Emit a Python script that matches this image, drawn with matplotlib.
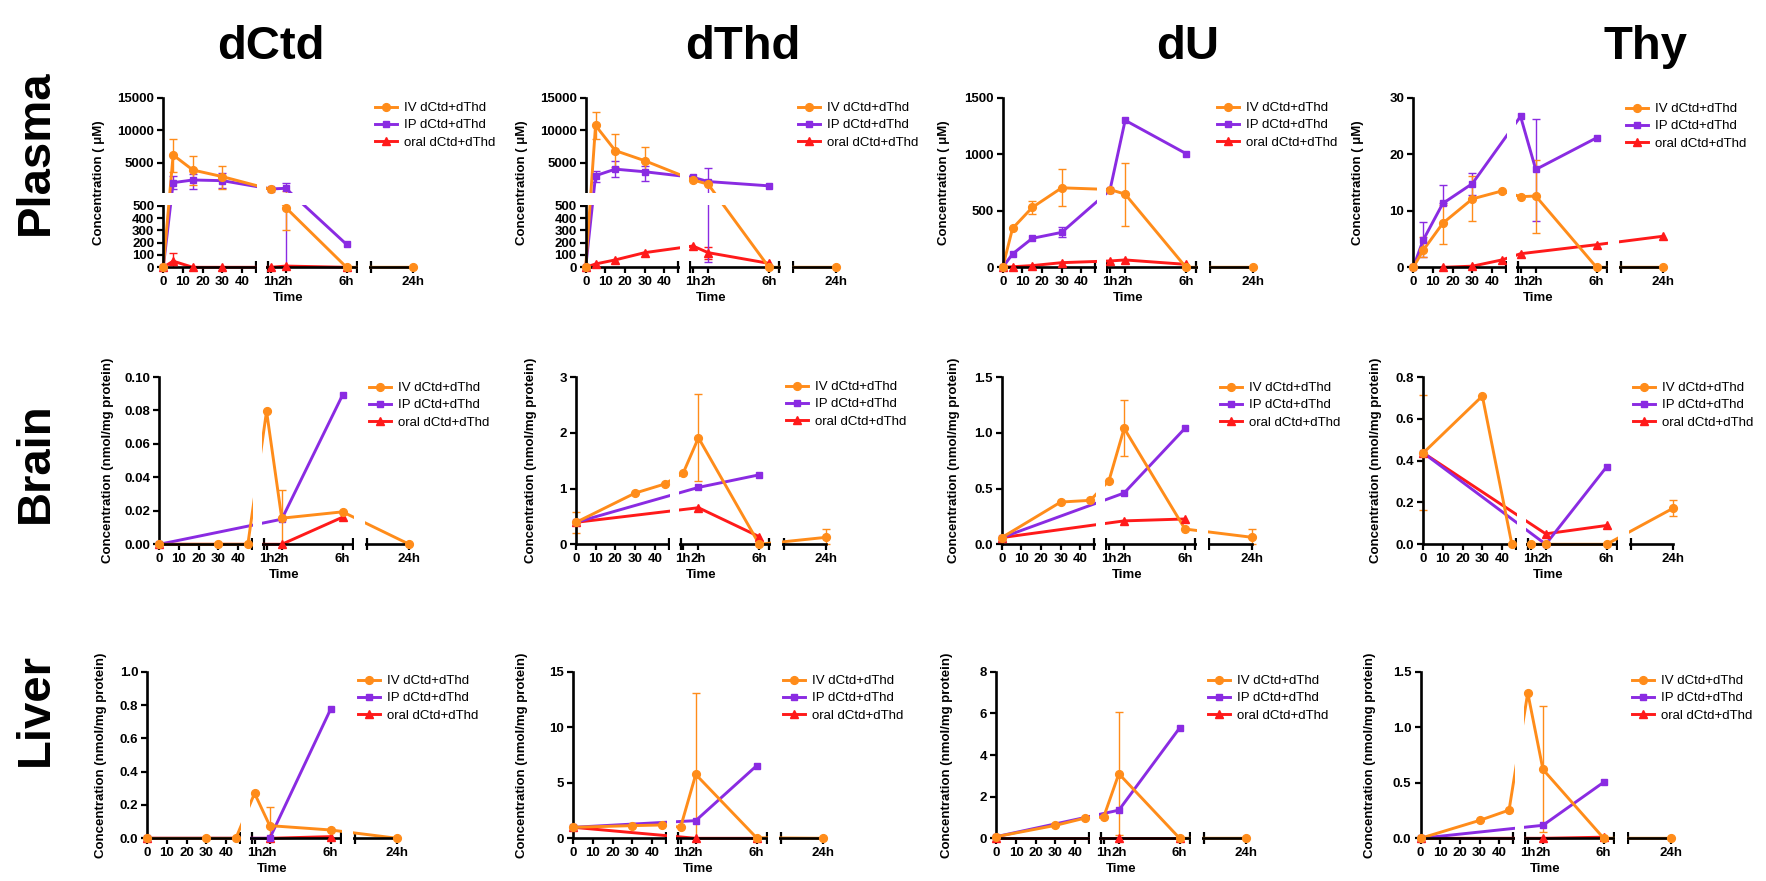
import numpy as np
import matplotlib
matplotlib.use("Agg")
import matplotlib.pyplot as plt
from matplotlib.lines import Line2D
from matplotlib.patches import Rectangle

nan = np.nan

# sampling times in minutes
times = [0, 5, 15, 30, 45, 60, 120, 360, 1440]
xtick_vals = [0, 10, 20, 30, 40, 60, 120, 360, 1440]
xtick_text = ['0', '10', '20', '30', '40', '1h', '2h', '6h', '24h']
series_names = ['IV dCtd+dThd', 'IP dCtd+dThd', 'oral dCtd+dThd']
organs = ['Plasma', 'Brain', 'Liver']
compounds = ['dCtd', 'dThd', 'dU', 'Thy']

# ---- Plasma dCtd (uM)
pl_dctd_iv = [0, 6180, 3870, 2850, nan, 900, 485, 0, 0]
pl_dctd_iv_lo = [nan, 3620, 1560, 900, nan, nan, 300, nan, nan]
pl_dctd_iv_hi = [nan, 8640, 6030, 4490, nan, nan, 670, nan, nan]
pl_dctd_ip = [0, 1920, 2330, 2230, nan, 950, 1050, 186, nan]
pl_dctd_ip_lo = [nan, 900, 900, 1050, nan, nan, 0, nan, nan]
pl_dctd_ip_hi = [nan, 2950, 3300, 3460, nan, nan, 1800, nan, nan]
pl_dctd_or = [0, 50, 0, 0, nan, 0, 10, 0, nan]
pl_dctd_or_lo = [nan, 0, nan, nan, nan, nan, nan, nan, nan]
pl_dctd_or_hi = [nan, 120, nan, nan, nan, nan, nan, nan, nan]

# ---- Plasma dThd (uM)
pl_dthd_iv = [0, 10730, 6860, 5300, nan, 2340, 1680, 0, 0]
pl_dthd_iv_lo = [nan, 8620, 4350, 3700, nan, nan, nan, nan, nan]
pl_dthd_iv_hi = [nan, 12740, 9370, 7360, nan, nan, nan, nan, nan]
pl_dthd_ip = [0, 2990, 4000, 3600, nan, 2740, 2090, 1430, nan]
pl_dthd_ip_lo = [nan, 2000, 2840, 2200, nan, nan, 46, nan, nan]
pl_dthd_ip_hi = [nan, 3700, 5250, 4500, nan, nan, 4250, nan, nan]
pl_dthd_or = [0, 27, 60, 119, nan, 173, 119, 32, nan]
pl_dthd_or_lo = [nan, nan, nan, nan, nan, nan, 65, nan, nan]
pl_dthd_or_hi = [nan, nan, nan, nan, nan, nan, 168, nan, nan]

# ---- Plasma dU (uM)
pl_du_iv = [0, 344, 529, 703, nan, 688, 647, 0, 0]
pl_du_iv_lo = [nan, nan, 475, 541, nan, nan, 368, nan, nan]
pl_du_iv_hi = [nan, nan, 590, 868, nan, nan, 924, nan, nan]
pl_du_ip = [0, 118, 256, 309, nan, 682, 1300, 1006, nan]
pl_du_ip_lo = [nan, nan, nan, 265, nan, nan, nan, nan, nan]
pl_du_ip_hi = [nan, nan, nan, 358, nan, nan, nan, nan, nan]
pl_du_or = [0, 5, 15, 41, nan, 56, 65, 26, nan]

# ---- Plasma Thy (uM)
pl_thy_iv = [0, 3.0, 7.8, 12.1, 13.5, 12.5, 12.6, 0, 0]
pl_thy_iv_lo = [nan, 1.9, 4.2, 8.2, nan, nan, 6.1, nan, nan]
pl_thy_iv_hi = [nan, 5.4, 11.1, 16.1, nan, nan, 19.0, nan, nan]
pl_thy_ip = [0, 4.8, 11.3, 14.8, nan, 26.7, 17.3, 22.9, nan]
pl_thy_ip_lo = [nan, 1.9, nan, 12.8, nan, nan, 8.2, nan, nan]
pl_thy_ip_hi = [nan, 8.1, 14.5, 16.6, nan, nan, 26.3, nan, nan]
pl_thy_or = [nan, nan, 0, 0.2, 1.3, 2.4, nan, 4.0, 5.5]

# ---- Brain dCtd (nmol/mg protein)
br_dctd_iv = [0, nan, nan, 0, 0, 0.0796, 0.0156, 0.0194, 0]
br_dctd_iv_lo = [nan, nan, nan, nan, nan, nan, 0, nan, nan]
br_dctd_iv_hi = [nan, nan, nan, nan, nan, nan, 0.0326, nan, nan]
br_dctd_ip = [0, nan, nan, nan, nan, nan, 0.015, 0.0892, nan]
br_dctd_or = [0, nan, nan, nan, nan, nan, 0, 0.0162, nan]

# ---- Brain dThd
br_dthd_iv = [0.394, nan, nan, 0.918, 1.08, 1.28, 1.91, 0, 0.125]
br_dthd_iv_lo = [0.21, nan, nan, nan, nan, nan, 1.14, nan, 0]
br_dthd_iv_hi = [0.58, nan, nan, nan, nan, nan, 2.69, nan, 0.27]
br_dthd_ip = [0.394, nan, nan, nan, nan, nan, 1.02, 1.246, nan]
br_dthd_or = [0.394, nan, nan, nan, nan, nan, 0.656, 0.137, nan]

# ---- Brain dU
br_du_iv = [0.06, nan, nan, 0.379, 0.394, 0.57, 1.04, 0.137, 0.063]
br_du_iv_lo = [nan, nan, nan, nan, nan, nan, 0.79, nan, 0]
br_du_iv_hi = [nan, nan, nan, nan, nan, nan, 1.29, nan, 0.137]
br_du_ip = [0.06, nan, nan, nan, nan, nan, 0.46, 1.04, nan]
br_du_or = [0.06, nan, nan, nan, nan, nan, 0.21, 0.227, nan]

# ---- Brain Thy
br_thy_iv = [0.437, nan, nan, 0.709, 0, 0, 0, 0, 0.173]
br_thy_iv_lo = [0.165, nan, nan, nan, nan, nan, nan, nan, 0.133]
br_thy_iv_hi = [0.712, nan, nan, nan, nan, nan, nan, nan, 0.213]
br_thy_ip = [0.437, nan, nan, nan, nan, nan, 0, 0.37, nan]
br_thy_or = [0.437, nan, nan, nan, nan, nan, 0.05, 0.09, nan]

# ---- Liver dCtd
lv_dctd_iv = [0, nan, nan, 0, 0, 0.27, 0.076, 0.05, 0]
lv_dctd_iv_lo = [nan, nan, nan, nan, nan, nan, 0, nan, nan]
lv_dctd_iv_hi = [nan, nan, nan, nan, nan, nan, 0.19, nan, nan]
lv_dctd_ip = [0, nan, nan, nan, nan, nan, 0, 0.774, nan]
lv_dctd_or = [0, nan, nan, nan, nan, nan, 0, 0.01, nan]

# ---- Liver dThd
lv_dthd_iv = [0.99, nan, nan, 1.14, 1.2, 0.99, 5.75, 0.05, 0]
lv_dthd_iv_lo = [nan, nan, nan, nan, nan, nan, 0, nan, nan]
lv_dthd_iv_hi = [nan, nan, nan, nan, nan, nan, 13.1, nan, nan]
lv_dthd_ip = [0.99, nan, nan, nan, nan, nan, 1.59, 6.53, nan]
lv_dthd_or = [0.99, nan, nan, nan, nan, nan, 0, 0, nan]

# ---- Liver dU
lv_du_iv = [0.08, nan, nan, 0.62, 0.97, 1.02, 3.1, 0, 0]
lv_du_iv_lo = [nan, nan, nan, nan, nan, nan, 0.14, nan, nan]
lv_du_iv_hi = [nan, nan, nan, nan, nan, nan, 6.05, nan, nan]
lv_du_ip = [0.08, nan, nan, nan, nan, nan, 1.35, 5.3, nan]
lv_du_or = [0, nan, nan, nan, nan, nan, 0, 0, nan]

# ---- Liver Thy
lv_thy_iv = [0, nan, nan, 0.161, 0.254, 1.31, 0.62, 0, 0]
lv_thy_iv_lo = [nan, nan, nan, nan, nan, nan, 0.057, nan, nan]
lv_thy_iv_hi = [nan, nan, nan, nan, nan, nan, 1.19, nan, nan]
lv_thy_ip = [0, nan, nan, nan, nan, nan, 0.117, 0.505, nan]
lv_thy_or = [0, nan, nan, nan, nan, nan, 0, 0.01, nan]

# y axis ticks per panel
yt_broken = [0, 100, 200, 300, 400, 500, 5000, 10000, 15000]
yticks = {
    (0, 0): yt_broken, (0, 1): yt_broken,
    (0, 2): [0, 500, 1000, 1500], (0, 3): [0, 10, 20, 30],
    (1, 0): [0, 0.02, 0.04, 0.06, 0.08, 0.10], (1, 1): [0, 1, 2, 3],
    (1, 2): [0, 0.5, 1.0, 1.5], (1, 3): [0, 0.2, 0.4, 0.6, 0.8],
    (2, 0): [0, 0.2, 0.4, 0.6, 0.8, 1.0], (2, 1): [0, 5, 10, 15],
    (2, 2): [0, 2, 4, 6, 8], (2, 3): [0, 0.5, 1.0, 1.5],
}
ydigits = {(1, 0): 2, (1, 2): 1, (1, 3): 1, (2, 0): 1, (2, 3): 1}

no_err = [nan] * 9
data = {
    (0, 0): [(pl_dctd_iv, pl_dctd_iv_lo, pl_dctd_iv_hi), (pl_dctd_ip, pl_dctd_ip_lo, pl_dctd_ip_hi), (pl_dctd_or, pl_dctd_or_lo, pl_dctd_or_hi)],
    (0, 1): [(pl_dthd_iv, pl_dthd_iv_lo, pl_dthd_iv_hi), (pl_dthd_ip, pl_dthd_ip_lo, pl_dthd_ip_hi), (pl_dthd_or, pl_dthd_or_lo, pl_dthd_or_hi)],
    (0, 2): [(pl_du_iv, pl_du_iv_lo, pl_du_iv_hi), (pl_du_ip, pl_du_ip_lo, pl_du_ip_hi), (pl_du_or, no_err, no_err)],
    (0, 3): [(pl_thy_iv, pl_thy_iv_lo, pl_thy_iv_hi), (pl_thy_ip, pl_thy_ip_lo, pl_thy_ip_hi), (pl_thy_or, no_err, no_err)],
    (1, 0): [(br_dctd_iv, br_dctd_iv_lo, br_dctd_iv_hi), (br_dctd_ip, no_err, no_err), (br_dctd_or, no_err, no_err)],
    (1, 1): [(br_dthd_iv, br_dthd_iv_lo, br_dthd_iv_hi), (br_dthd_ip, no_err, no_err), (br_dthd_or, no_err, no_err)],
    (1, 2): [(br_du_iv, br_du_iv_lo, br_du_iv_hi), (br_du_ip, no_err, no_err), (br_du_or, no_err, no_err)],
    (1, 3): [(br_thy_iv, br_thy_iv_lo, br_thy_iv_hi), (br_thy_ip, no_err, no_err), (br_thy_or, no_err, no_err)],
    (2, 0): [(lv_dctd_iv, lv_dctd_iv_lo, lv_dctd_iv_hi), (lv_dctd_ip, no_err, no_err), (lv_dctd_or, no_err, no_err)],
    (2, 1): [(lv_dthd_iv, lv_dthd_iv_lo, lv_dthd_iv_hi), (lv_dthd_ip, no_err, no_err), (lv_dthd_or, no_err, no_err)],
    (2, 2): [(lv_du_iv, lv_du_iv_lo, lv_du_iv_hi), (lv_du_ip, no_err, no_err), (lv_du_or, no_err, no_err)],
    (2, 3): [(lv_thy_iv, lv_thy_iv_lo, lv_thy_iv_hi), (lv_thy_ip, no_err, no_err), (lv_thy_or, no_err, no_err)],
}

# ---- layout (pixels of the 1766x881 figure)
FW, FH = 1766, 881
PW = 250
row_y = [(97.7, 267.3), (377.0, 544.3), (671.7, 838.3)]
col_x0 = [[163.3, 585.7, 1002.7, 1413.3],
          [159.3, 576.0, 1001.7, 1423.3],
          [147.3, 573.3, 996.4, 1420.5]]
ylab_off = [[65, 65, 60, 56], [52, 46, 49, 48], [47, 52, 50, 52]]
leg_xy = [[(375, 110), (798, 110), (1217, 110), (1626, 111)],
          [(369, 390), (786, 389), (1220, 390), (1633, 390)],
          [(358, 683), (783, 683), (1208, 683), (1632, 683)]]
title_x = [271, 743, 1188, 1645]
row_label_y = [152, 463, 709]

colors = ['#FF8C1A', '#8A2BE2', '#FF1A1A']
markers = ['o', 's', '^']
msizes = [5.6, 5.0, 5.8]
LW = 2.1

# broken time axis: minutes -> fraction of axis width
xb_t = [0, 47, 49, 60, 360, 400, 720, 1440]
xb_f = [0, 0.37, 0.418, 0.429, 0.733, 0.7735, 0.83, 1.0]
# broken concentration axis for plasma dCtd / dThd
yb_v = [0, 500, 501, 15000]
yb_f = [0, 0.363, 0.4447, 1.0]

plt.rcParams['font.family'] = ['Liberation Sans', 'DejaVu Sans']
plt.rcParams['font.weight'] = 'bold'

fig = plt.figure(figsize=(FW / 100, FH / 100), dpi=100)

for r in range(3):
    ytop, ybot = row_y[r]
    for c in range(4):
        x0 = col_x0[r][c]
        ph = ybot - ytop
        ax = fig.add_axes([x0 / FW, 1 - ybot / FH, PW / FW, ph / FH])
        ax.set_xscale('function', functions=(lambda t: np.interp(t, xb_t, xb_f),
                                             lambda f: np.interp(f, xb_f, xb_t)))
        ax.set_xlim(0, 1440)
        yt = yticks[(r, c)]
        broken = (r == 0 and c < 2)
        if broken:
            ax.set_yscale('function', functions=(lambda v: np.interp(v, yb_v, yb_f),
                                                 lambda f: np.interp(f, yb_f, yb_v)))
        ax.set_ylim(0, yt[-1])

        for k in [2, 1, 0]:
            vals, lo, hi = data[(r, c)][k]
            t = np.array(times, float)
            y = np.array(vals, float)
            lo = np.array(lo, float)
            hi = np.array(hi, float)
            m = ~np.isnan(y)
            ax.plot(t[m], y[m], color=colors[k], lw=LW, zorder=2 + 0.1 * (2 - k), clip_on=False)
            ax.plot(t[m], y[m], ls='none', marker=markers[k], ms=msizes[k], color=colors[k],
                    zorder=4 + 0.1 * (2 - k), clip_on=False)
            e = m & (~np.isnan(lo) | ~np.isnan(hi))
            if e.any():
                lo_f = np.where(np.isnan(lo), y, lo)
                hi_f = np.where(np.isnan(hi), y, hi)
                eb = ax.errorbar(t[e], y[e], yerr=[y[e] - lo_f[e], hi_f[e] - y[e]], fmt='none',
                                 ecolor=colors[k], elinewidth=1.0, capsize=3.2, capthick=1.0, zorder=2)
                for art in list(eb.lines[1]) + list(eb.lines[2]):
                    art.set_clip_on(False)

        # hide the gaps of the broken axes
        for gx, gw in [(0.376, 0.036), (0.7795, 0.0445)]:
            ax.add_patch(Rectangle((gx, -0.05), gw, 1.1, transform=ax.transAxes, facecolor='white',
                                   edgecolor='none', zorder=3, clip_on=False))
        if broken:
            ax.add_patch(Rectangle((-0.03, 0.369), 1.1, 0.07, transform=ax.transAxes, facecolor='white',
                                   edgecolor='none', zorder=3, clip_on=False))

        ax.set_xticks(xtick_vals)
        ax.set_xticklabels(xtick_text)
        ax.set_xticks([47, 49, 400, 720], minor=True)
        ax.set_yticks(yt)
        nd = ydigits.get((r, c), 0)
        ax.set_yticklabels([f'{v:.{nd}f}' for v in yt])
        ax.yaxis.set_minor_locator(plt.NullLocator())
        ax.tick_params(which='major', direction='out', length=4.5, width=1.6, labelsize=9.5,
                       pad=2, color='black')
        ax.tick_params(axis='x', which='minor', direction='inout', length=8, width=1.6, color='black')
        for s in ['top', 'right']:
            ax.spines[s].set_visible(False)
        for s in ['left', 'bottom']:
            ax.spines[s].set_linewidth(1.9)

        ax.set_xlabel('Time', fontsize=9.5, fontweight='bold')
        ax.xaxis.set_label_coords(0.5, -25 / ph)
        ylab = 'Concentration ( μM)' if r == 0 else 'Concentration (nmol/mg protein)'
        ax.set_ylabel(ylab, fontsize=9.5, fontweight='bold')
        ax.yaxis.set_label_coords(-(ylab_off[r][c] - 7) / PW, 0.5)

        handles = [Line2D([], [], color=colors[k], lw=LW, marker=markers[k], ms=msizes[k]) for k in range(3)]
        lx, ly = leg_xy[r][c]
        ax.legend(handles, series_names, loc='upper left', bbox_to_anchor=(lx / FW, 1 - (ly - 8) / FH),
                  bbox_transform=fig.transFigure, frameon=False, borderpad=0, borderaxespad=0,
                  handlelength=1.7, handletextpad=0.5, labelspacing=0.38,
                  prop={'family': 'Liberation Sans', 'weight': 'normal', 'size': 9.5})

for c, name in enumerate(compounds):
    fig.text(title_x[c] / FW, 1 - 47 / FH, name, ha='center', va='center', fontsize=34, fontweight='bold')
for r, name in enumerate(organs):
    fig.text(36 / FW, 1 - row_label_y[r] / FH, name, ha='center', va='center', rotation=90,
             fontsize=34, fontweight='bold')

fig.savefig('out.png', dpi=100)
